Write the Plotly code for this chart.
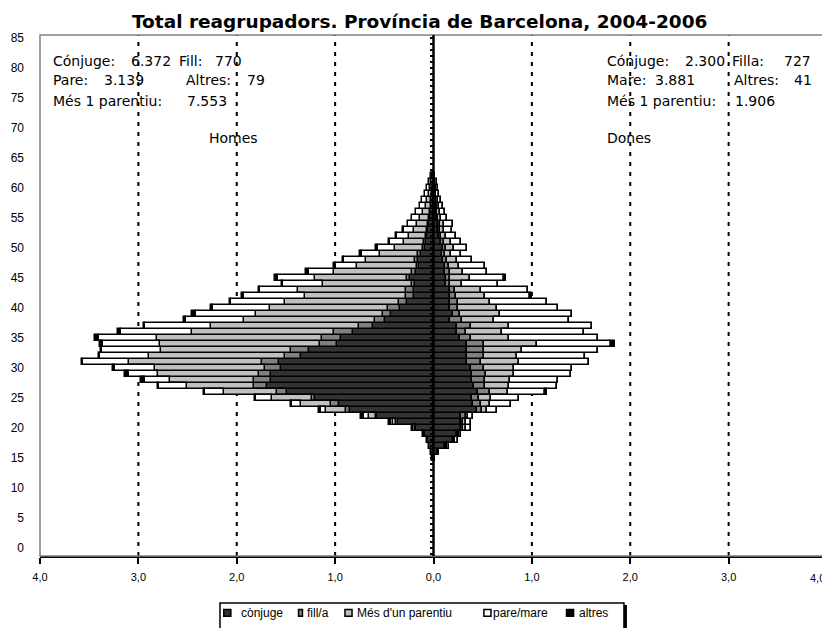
import plotly.graph_objects as go

# ---------------- data ----------------
ages = list(range(15, 63))

categories = ["cònjuge", "fill/a", "Més d'un parentiu", "pare/mare", "altres"]
colors = ["#333333", "#808080", "#c0c0c0", "#ffffff", "#000000"]

# Homes (percent, shown to the left)
men_conjuge = [0.02, 0.03, 0.05, 0.06, 0.09, 0.18, 0.36, 0.57, 0.85, 0.96, 1.20, 1.49, 1.69, 1.65, 1.65, 1.55,
               1.57, 1.35, 1.27, 0.98, 0.94, 0.82, 0.62, 0.49, 0.43, 0.34, 0.27, 0.20, 0.20, 0.19, 0.24, 0.18,
               0.15, 0.16, 0.13, 0.09, 0.08, 0.07, 0.06, 0.05, 0.04, 0.04, 0.03, 0.03, 0.02, 0.02, 0.01, 0.01]
men_fill = [0.0, 0.0, 0.0, 0.0, 0.01, 0.01, 0.02, 0.01, 0.04, 0.08, 0.04, 0.10, 0.13, 0.17, 0.12, 0.16,
            0.17, 0.16, 0.18, 0.17, 0.19, 0.19, 0.14, 0.10, 0.08, 0.12, 0.08, 0.08, 0.08, 0.03, 0.03, 0.04,
            0.02, 0.03, 0.03, 0.02, 0.02, 0.01, 0.01, 0.01, 0.01, 0.0, 0.0, 0.0, 0.0, 0.0, 0.0, 0.0]
men_mes = [0.0, 0.0, 0.0, 0.01, 0.01, 0.02, 0.03, 0.08, 0.20, 0.31, 0.40, 0.54, 0.69, 0.86, 1.03, 1.12,
           1.36, 1.38, 1.32, 1.63, 1.68, 1.44, 1.50, 1.34, 1.29, 1.20, 1.16, 1.03, 1.10, 0.90, 0.93, 0.79,
           0.61, 0.50, 0.38, 0.28, 0.20, 0.17, 0.13, 0.11, 0.09, 0.07, 0.05, 0.04, 0.03, 0.02, 0.02, 0.01]
men_pare = [0.0, 0.0, 0.0, 0.0, 0.0, 0.01, 0.02, 0.05, 0.05, 0.09, 0.16, 0.19, 0.28, 0.25, 0.30, 0.41,
            0.46, 0.50, 0.60, 0.58, 0.59, 0.73, 0.67, 0.59, 0.61, 0.58, 0.55, 0.62, 0.38, 0.41, 0.38, 0.26,
            0.21, 0.22, 0.19, 0.17, 0.14, 0.12, 0.10, 0.09, 0.08, 0.07, 0.06, 0.05, 0.04, 0.03, 0.02, 0.01]
men_altres = [0.0, 0.0, 0.0, 0.0, 0.0, 0.0, 0.02, 0.03, 0.02, 0.01, 0.01, 0.01, 0.01, 0.04, 0.04, 0.02,
              0.01, 0.01, 0.01, 0.03, 0.04, 0.03, 0.01, 0.02, 0.04, 0.02, 0.01, 0.02, 0.01, 0.01, 0.03, 0.03,
              0.02, 0.01, 0.02, 0.02, 0.01, 0.01, 0.01, 0.0, 0.0, 0.0, 0.0, 0.0, 0.0, 0.0, 0.0, 0.0]

# Dones (percent, shown to the right)
women_conjuge = [0.02, 0.05, 0.12, 0.20, 0.24, 0.28, 0.28, 0.28, 0.44, 0.40, 0.39, 0.45, 0.41, 0.39, 0.39, 0.38,
                 0.34, 0.34, 0.34, 0.34, 0.27, 0.24, 0.24, 0.17, 0.20, 0.17, 0.17, 0.17, 0.17, 0.13, 0.13, 0.12,
                 0.12, 0.10, 0.09, 0.10, 0.08, 0.06, 0.05, 0.05, 0.04, 0.03, 0.03, 0.02, 0.02, 0.02, 0.01, 0.01]
women_fill = [0.0, 0.0, 0.01, 0.01, 0.01, 0.02, 0.02, 0.05, 0.05, 0.08, 0.07, 0.12, 0.11, 0.13, 0.14, 0.13,
              0.14, 0.17, 0.17, 0.17, 0.11, 0.09, 0.14, 0.12, 0.07, 0.08, 0.08, 0.06, 0.05, 0.04, 0.04, 0.05,
              0.04, 0.04, 0.03, 0.03, 0.03, 0.02, 0.02, 0.02, 0.01, 0.01, 0.01, 0.01, 0.0, 0.0, 0.0, 0.0]
women_mes = [0.0, 0.0, 0.01, 0.01, 0.01, 0.03, 0.03, 0.02, 0.05, 0.09, 0.12, 0.19, 0.25, 0.26, 0.29, 0.31,
             0.39, 0.34, 0.39, 0.54, 0.39, 0.37, 0.39, 0.32, 0.41, 0.40, 0.32, 0.29, 0.26, 0.12, 0.20, 0.13,
             0.10, 0.10, 0.06, 0.08, 0.07, 0.05, 0.04, 0.04, 0.03, 0.03, 0.02, 0.02, 0.01, 0.01, 0.01, 0.0]
women_mare = [0.0, 0.01, 0.02, 0.03, 0.02, 0.05, 0.05, 0.05, 0.11, 0.22, 0.29, 0.37, 0.49, 0.49, 0.58, 0.59,
              0.71, 0.69, 0.77, 0.75, 0.90, 0.83, 0.84, 0.77, 0.73, 0.62, 0.58, 0.46, 0.48, 0.37, 0.35, 0.24,
              0.26, 0.15, 0.10, 0.13, 0.10, 0.10, 0.08, 0.09, 0.06, 0.05, 0.04, 0.03, 0.03, 0.02, 0.02, 0.01]
women_altres = [0.0, 0.0, 0.0, 0.0, 0.0, 0.0, 0.0, 0.0, 0.0, 0.0, 0.0, 0.02, 0.0, 0.0, 0.0, 0.0,
                0.0, 0.0, 0.0, 0.04, 0.0, 0.0, 0.0, 0.0, 0.0, 0.0, 0.0, 0.02, 0.0, 0.0, 0.02, 0.0,
                0.0, 0.0, 0.0, 0.0, 0.0, 0.0, 0.0, 0.0, 0.0, 0.0, 0.0, 0.0, 0.0, 0.0, 0.0, 0.0]

x_tickvals = [-4, -3, -2, -1, 0, 1, 2, 3, 4]
x_ticktext = ["4,0", "3,0", "2,0", "1,0", "0,0", "1,0", "2,0", "3,0", ""]
last_tick_label = "4,0"   # drawn slightly inside the right edge so that it is not cut off
y_tickvals = list(range(0, 90, 5))
grid_values = [-3, -2, -1, 1, 2, 3]

title = "Total reagrupadors. Província de Barcelona, 2004-2006"

# summary texts: (text, x in data units, y in age units)
men_texts = [("Cónjuge:", -3.89, 81.2), ("6.372", -3.10, 81.2), ("Fill:", -2.61, 81.2), ("770", -2.24, 81.2),
             ("Pare:", -3.89, 78), ("3.139", -3.37, 78), ("Altres:", -2.54, 78), ("79", -1.92, 78),
             ("Més 1 parentiu:", -3.89, 74.5), ("7.553", -2.53, 74.5), ("Homes", -2.30, 68.3)]
women_texts = [("Cónjuge:", 1.74, 81.2), ("2.300", 2.54, 81.2), ("Filla:", 3.01, 81.2), ("727", 3.54, 81.2),
               ("Mare:", 1.74, 78), ("3.881", 2.23, 78), ("Altres:", 3.03, 78), ("41", 3.64, 78),
               ("Més 1 parentiu:", 1.74, 74.5), ("1.906", 3.04, 74.5), ("Dones", 1.74, 68.3)]

# custom legend layout (paper coordinates relative to the plot area)
legend_marker_x = [0.2335, 0.3285, 0.3875, 0.5640, 0.6690]
legend_marker_w = [0.0090, 0.0050, 0.0090, 0.0090, 0.0090]
legend_text_x = [0.2530, 0.3370, 0.4000, 0.5730, 0.6820]

# ---------------- figure ----------------
men = [men_conjuge, men_fill, men_mes, men_pare, men_altres]
women = [women_conjuge, women_fill, women_mes, women_mare, women_altres]

fig = go.Figure()
for i, name in enumerate(categories):
    fig.add_trace(go.Bar(
        y=ages, x=[-v for v in men[i]], orientation="h", name=name,
        showlegend=False, width=1,
        marker=dict(color=colors[i], line=dict(color="black", width=1.5)),
    ))
for i, name in enumerate(categories):
    fig.add_trace(go.Bar(
        y=ages, x=women[i], orientation="h", name=name,
        showlegend=False, width=1,
        marker=dict(color=colors[i], line=dict(color="black", width=1.5)),
    ))

# invisible trace for the central age axis
fig.add_trace(go.Scatter(x=[0], y=[0], yaxis="y2", mode="markers",
                         marker=dict(opacity=0), showlegend=False, hoverinfo="skip"))

shapes = []
for g in grid_values:
    shapes.append(dict(type="line", xref="x", yref="paper", x0=g, x1=g, y0=0, y1=1,
                       line=dict(color="black", width=2, dash="4px,6px"), layer="below"))
shapes.append(dict(type="rect", xref="paper", yref="paper", x0=0, x1=1, y0=0, y1=1,
                   line=dict(color="#808080", width=1.5), layer="above"))
shapes.append(dict(type="line", xref="x", yref="paper", x0=0, x1=0, y0=0, y1=1,
                   line=dict(color="black", width=2.5), layer="above"))

# legend box with shadow
shapes.append(dict(type="rect", xref="paper", yref="paper", x0=0.2312, x1=0.7458, y0=-0.170, y1=-0.0940,
                   line=dict(width=0), fillcolor="black", layer="above"))
shapes.append(dict(type="rect", xref="paper", yref="paper", x0=0.2287, x1=0.7420, y0=-0.165, y1=-0.0902,
                   line=dict(color="black", width=1.5), fillcolor="white", layer="above"))
annotations = []
for i, name in enumerate(categories):
    shapes.append(dict(type="rect", xref="paper", yref="paper",
                       x0=legend_marker_x[i], x1=legend_marker_x[i] + legend_marker_w[i],
                       y0=-0.1155, y1=-0.1025,
                       line=dict(color="black", width=1.5), fillcolor=colors[i], layer="above"))
    annotations.append(dict(text=name, x=legend_text_x[i], y=-0.109, xref="paper", yref="paper",
                            xanchor="left", yanchor="middle", showarrow=False,
                            font=dict(family="Liberation Sans Narrow, Liberation Sans, Arial", size=12,
                                      color="black")))

for t, x, y in men_texts + women_texts:
    annotations.append(dict(text=t, x=x, y=y, xref="x", yref="y", xanchor="left", yanchor="middle",
                            showarrow=False, font=dict(family="DejaVu Sans", size=14, color="black")))

# rightmost x tick label, kept inside the page
annotations.append(dict(text=last_tick_label, x=1.0, xref="paper", xanchor="right", y=-0.042, yref="paper",
                        yanchor="middle", showarrow=False,
                        font=dict(family="Liberation Sans Narrow, Liberation Sans, Arial", size=11,
                                  color="black")))

fig.update_layout(
    width=830, height=628,
    margin=dict(l=32, r=11, t=27, b=80),
    paper_bgcolor="white", plot_bgcolor="white",
    barmode="relative", bargap=0,
    title=dict(text="<b>" + title + "</b>", x=0.496, xanchor="center", y=0.978, yanchor="middle",
               font=dict(family="DejaVu Sans", size=18.5, color="black")),
    xaxis=dict(range=[-4, 4], tickvals=x_tickvals, ticktext=x_ticktext, showgrid=False, zeroline=False,
               showline=True, linecolor="black", linewidth=2, ticks="outside", ticklen=6, tickwidth=1.5,
               tickcolor="black", ticklabelstandoff=4, automargin=False,
               tickfont=dict(family="Liberation Sans Narrow, Liberation Sans, Arial", size=11, color="black")),
    yaxis=dict(range=[-1.33, 85.5], tickvals=y_tickvals, showgrid=False, zeroline=False, showline=False,
               ticks="", ticklabelstandoff=15, automargin=False,
               tickfont=dict(family="Liberation Sans, Arial", size=12, color="black")),
    yaxis2=dict(overlaying="y", anchor="free", position=0.5, range=[-1.33, 85.5], showgrid=False,
                zeroline=False, showline=False, showticklabels=False, ticks="outside", dtick=1,
                tick0=0, ticklen=4, tickwidth=2, tickcolor="black", side="left", automargin=False),
    showlegend=False,
    shapes=shapes,
    annotations=annotations,
)

fig.write_html("out.html")
